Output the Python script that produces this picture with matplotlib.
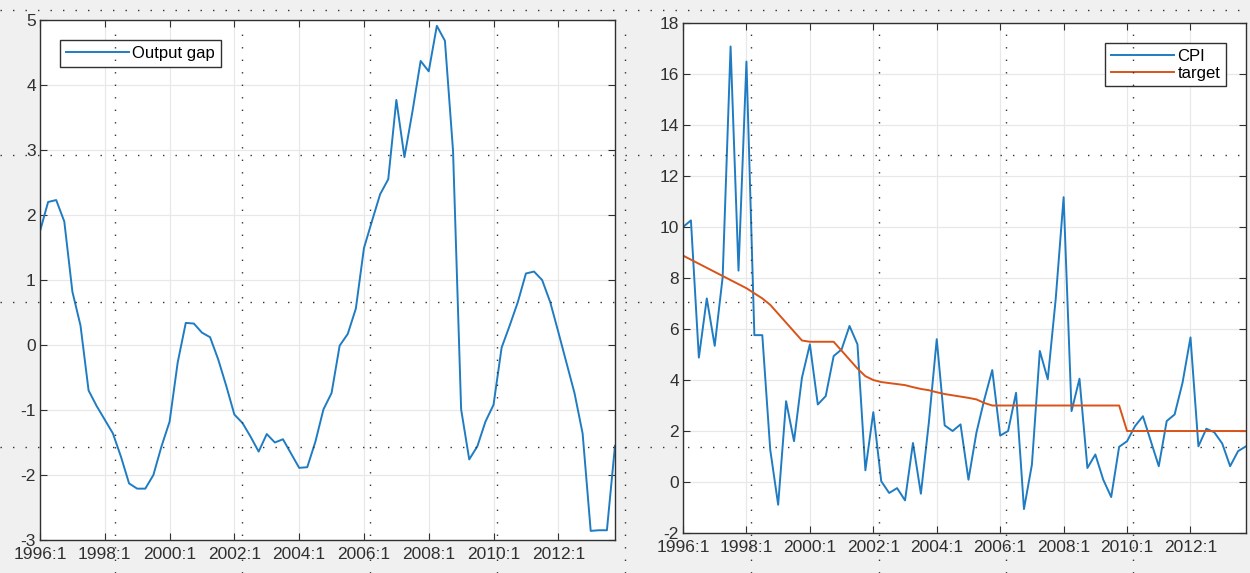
import numpy as np
import matplotlib
matplotlib.use("Agg")
import matplotlib.pyplot as plt
from matplotlib.lines import Line2D

# quarterly data 1996:1 .. 2013:4
output_gap = [1.75, 2.20, 2.23, 1.90, 0.82, 0.30, -0.70, -0.94, -1.15, -1.36,
              -1.72, -2.13, -2.21, -2.21, -2.00, -1.56, -1.18, -0.27, 0.34, 0.33,
              0.19, 0.12, -0.22, -0.63, -1.07, -1.20, -1.41, -1.64, -1.37, -1.50,
              -1.45, -1.67, -1.89, -1.88, -1.49, -0.99, -0.74, -0.01, 0.17, 0.56,
              1.49, 1.91, 2.32, 2.55, 3.77, 2.89, 3.60, 4.37, 4.21, 4.91,
              4.68, 2.99, -0.99, -1.76, -1.56, -1.18, -0.92, -0.04, 0.30, 0.66,
              1.10, 1.13, 1.00, 0.66, 0.20, -0.27, -0.74, -1.36, -2.86, -2.85,
              -2.85, -1.55]

cpi = [10.0, 10.26, 4.88, 7.2, 5.34, 8.03, 17.08, 8.29, 16.49, 5.76,
       5.76, 1.27, -0.89, 3.17, 1.6, 4.09, 5.4, 3.04, 3.37, 4.94,
       5.2, 6.12, 5.4, 0.46, 2.74, 0.03, -0.43, -0.24, -0.72, 1.53,
       -0.46, 2.32, 5.6, 2.22, 2.0, 2.26, 0.09, 1.93, 3.24, 4.39,
       1.82, 2.0, 3.5, -1.06, 0.68, 5.14, 4.03, 7.17, 11.17, 2.78,
       4.05, 0.55, 1.08, 0.09, -0.59, 1.38, 1.6, 2.19, 2.58, 1.6,
       0.62, 2.39, 2.65, 3.9, 5.67, 1.4, 2.09, 1.95, 1.51, 0.62,
       1.21, 1.4]

target = [8.88, 8.72, 8.56, 8.40, 8.24, 8.08, 7.92, 7.76, 7.60, 7.40,
          7.20, 6.95, 6.60, 6.25, 5.90, 5.55, 5.50, 5.50, 5.50, 5.50,
          5.15, 4.80, 4.45, 4.15, 4.00, 3.92, 3.88, 3.84, 3.80, 3.72,
          3.65, 3.60, 3.52, 3.45, 3.40, 3.35, 3.30, 3.24, 3.10, 3.00,
          3.00, 3.00, 3.00, 3.00, 3.00, 3.00, 3.00, 3.00, 3.00, 3.00,
          3.00, 3.00, 3.00, 3.00, 3.00, 3.00, 2.00, 2.00, 2.00, 2.00,
          2.00, 2.00, 2.00, 2.00, 2.00, 2.00, 2.00, 2.00, 2.00, 2.00,
          2.00, 2.00]

tick_labels = ["1996:1", "1998:1", "2000:1", "2002:1", "2004:1",
               "2006:1", "2008:1", "2010:1", "2012:1"]

blue = "#1f7cc2"
orange = "#D95319"
dark = "#303030"

plt.rcParams['font.family'] = ['Liberation Sans', 'DejaVu Sans']
plt.rcParams['axes.unicode_minus'] = False

fig = plt.figure(figsize=(12.5, 5.73), dpi=100, facecolor="#f0f0f0")
ax1 = fig.add_axes([0.032, 0.0576, 0.46, 0.9075])
ax2 = fig.add_axes([0.5464, 0.0698, 0.4504, 0.890])

x = np.arange(len(output_gap))


def style(ax, ylo, yhi, ystep):
    ax.set_xlim(0, len(x) - 1)
    ax.set_ylim(ylo, yhi)
    ax.set_xticks(np.arange(0, len(x), 8))
    ax.set_xticklabels(tick_labels)
    ax.set_yticks(np.arange(ylo, yhi + 0.1, ystep))
    ax.grid(True, color="#e8e8e8", linewidth=0.9)
    ax.set_axisbelow(True)
    ax.tick_params(direction="in", top=True, right=True, length=5,
                   labelsize=12.5, colors=dark, pad=3)
    ax.tick_params(axis="x", pad=5)
    for s in ax.spines.values():
        s.set_color(dark)
        s.set_linewidth(1.0)


ax1.plot(x, output_gap, color=blue, lw=1.4, label="Output gap")
style(ax1, -3, 5, 1)
leg = ax1.legend(loc="upper left", fontsize=12, handlelength=3.8, fancybox=False,
                 edgecolor=dark, framealpha=1, borderaxespad=1.2, handletextpad=0.2,
                 borderpad=0.35)
leg.get_frame().set_linewidth(1.0)

ax2.plot(x, cpi, color=blue, lw=1.4, label="CPI")
ax2.plot(x, target, color=orange, lw=1.4, label="target")
style(ax2, -2, 18, 2)
leg = ax2.legend(loc="upper right", fontsize=12, handlelength=3.8, fancybox=False,
                 edgecolor=dark, framealpha=1, borderaxespad=1.2, handletextpad=0.2,
                 labelspacing=0.1, borderpad=0.35)
leg.get_frame().set_linewidth(1.0)

# dotted overlay grid of the screenshot
W, H = 1250, 573
for yp in [10, 155, 302, 447]:
    fig.add_artist(Line2D([0, 1], [1 - yp / H, 1 - yp / H], transform=fig.transFigure,
                          color="#333333", lw=1.0, ls=(0, (1, 8)), zorder=10))
for xp in [115, 242, 370, 497, 625, 751, 879, 1006, 1133]:
    fig.add_artist(Line2D([xp / W, xp / W], [0, 1 - 30 / H], transform=fig.transFigure,
                          color="#333333", lw=1.0, ls=(0, (1, 8)), zorder=10))

fig.savefig("out.png", dpi=100, facecolor=fig.get_facecolor())
